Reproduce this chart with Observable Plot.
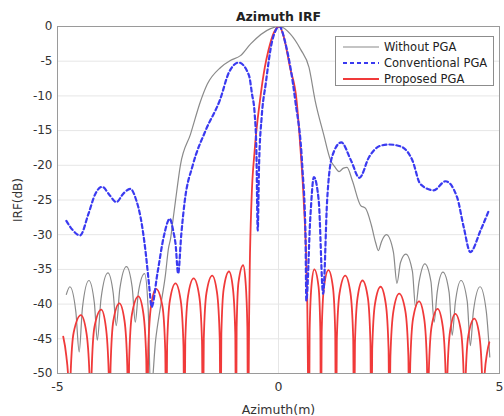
<!DOCTYPE html>
<html>
<head>
<meta charset="utf-8">
<script src="https://cdn.jsdelivr.net/npm/d3@7"></script>
<script src="https://cdn.jsdelivr.net/npm/@observablehq/plot@0.6"></script>
<style>
  html, body { margin: 0; padding: 0; background: #fff; }
  #wrap { position: relative; width: 504px; height: 416px; font-family: "DejaVu Sans", sans-serif; }
  #legend { position: absolute; left: 335px; top: 36px; width: 159px; height: 50px; box-sizing: border-box;
            border: 1px solid #8c8c8c; background: #fff; padding-top: 2px; }
  .row { display: flex; align-items: center; height: 16px; font-size: 11.5px; color: #222; }
  .row svg { margin-left: 7px; margin-right: 5px; }
</style>
</head>
<body>
<div id="wrap"></div>
<script>
// ---- data ----
const titleText = "Azimuth IRF";
const xLabel = "Azimuth(m)";
const yLabel = "IRF(dB)";
const xTicks = [-5, 0, 5];
const yTicks = [0, -5, -10, -15, -20, -25, -30, -35, -40, -45, -50];
const seriesNames = ["Without PGA", "Conventional PGA", "Proposed PGA"];

// Without PGA  [azimuth m, dB]
const withoutPGA = [
  [-4.80,-38.6],[-4.72,-37.5],[-4.585,-41.1],[-4.51,-46.9],[-4.435,-40.5],[-4.29,-36.6],[-4.165,-39.9],[-4.10,-45.2],
  [-4.015,-39.2],[-3.86,-35.5],[-3.74,-38.4],[-3.67,-43.1],[-3.59,-37.8],[-3.44,-34.6],[-3.31,-37.6],[-3.24,-42.6],
  [-3.17,-38.3],[-3.03,-35.6],[-2.95,-40.5],[-2.89,-53],[-2.78,-45.2],[-2.67,-40.4],[-2.56,-35.9],[-2.49,-32.0],
  [-2.44,-30.5],[-2.40,-28.5],[-2.33,-25.1],[-2.22,-20.0],[-1.99,-15.5],[-1.76,-10.7],[-1.61,-8.3],[-1.31,-5.9],
  [-1.09,-4.9],[-0.86,-4.2],[-0.63,-2.5],[-0.18,-0.3],[0.02,0],[0.27,-1.1],[0.50,-3.3],[0.69,-5.9],[0.83,-10.7],
  [1.02,-15.5],[1.18,-19.3],[1.27,-20.2],[1.37,-20.9],[1.47,-20.4],[1.55,-20.3],[1.67,-22.2],[1.86,-25.8],
  [1.97,-26.2],[2.10,-28.6],[2.20,-31.2],[2.26,-32.3],[2.33,-31.0],[2.44,-30.0],[2.60,-32.5],[2.68,-37.0],
  [2.76,-34.0],[2.88,-32.8],[3.03,-35.3],[3.10,-40.4],[3.18,-36.8],[3.31,-34.2],[3.45,-36.8],[3.52,-42.6],
  [3.59,-38.3],[3.72,-35.4],[3.86,-38.3],[3.93,-44.5],[4.00,-39.8],[4.13,-36.6],[4.27,-39.6],[4.34,-46.0],
  [4.41,-41.0],[4.56,-37.5],[4.70,-41.0],[4.78,-47.6]
];

// Conventional PGA
const conventionalPGA = [
  [-4.80,-28.0],[-4.66,-29.3],[-4.49,-30.1],[-4.30,-27.0],[-4.15,-24.2],[-3.99,-23.1],[-3.82,-24.3],[-3.67,-25.3],
  [-3.50,-24.0],[-3.35,-23.4],[-3.22,-25.0],[-3.12,-27.5],[-3.01,-32.3],[-2.93,-37.1],[-2.87,-40.4],[-2.74,-35.6],
  [-2.59,-30.1],[-2.46,-27.7],[-2.38,-29.5],[-2.33,-31.3],[-2.27,-35.6],[-2.20,-30.0],[-2.12,-25.1],[-1.94,-20.0],
  [-1.65,-15.0],[-1.32,-10.5],[-1.12,-6.6],[-0.90,-5.2],[-0.67,-7.0],[-0.60,-9.7],[-0.54,-12.5],[-0.50,-17.9],
  [-0.47,-29.4],[-0.44,-20.0],[-0.38,-13.0],[-0.29,-8.3],[-0.14,-2.0],[0.02,0],[0.16,-2.5],[0.38,-10.7],
  [0.54,-20.3],[0.61,-29.9],[0.63,-39.5],[0.72,-27.5],[0.80,-21.7],[0.91,-25.1],[1.01,-38.5],[1.10,-25.1],
  [1.21,-18.8],[1.42,-16.7],[1.64,-19.3],[1.83,-21.8],[2.05,-18.8],[2.30,-17.2],[2.50,-17.0],[2.77,-17.3],
  [3.03,-19.3],[3.21,-22.7],[3.51,-23.6],[3.78,-22.3],[4.04,-24.6],[4.19,-28.9],[4.34,-32.5],[4.57,-29.4],
  [4.76,-26.5]
];

// Proposed PGA
const proposedPGA = [
  [-4.87,-44.7],[-4.80,-47.5],[-4.755,-51],[-4.73,-62],
  [-4.706,-50.6],[-4.634,-44.1],[-4.47,-41.6],[-4.346,-44.1],[-4.274,-50.6],[-4.25,-62],
  [-4.228,-49.8],[-4.164,-43.3],[-4.01,-40.8],[-3.906,-43.3],[-3.842,-49.8],[-3.82,-62],
  [-3.799,-48.9],[-3.736,-42.4],[-3.60,-39.9],[-3.484,-42.4],[-3.421,-48.9],[-3.40,-62],
  [-3.378,-47.9],[-3.314,-41.4],[-3.17,-38.9],[-3.056,-41.4],[-2.992,-47.9],[-2.97,-62],
  [-2.948,-46.8],[-2.884,-40.3],[-2.77,-37.8],[-2.626,-40.3],[-2.562,-46.8],[-2.54,-62],
  [-2.52,-46.0],[-2.458,-39.5],[-2.33,-37.0],[-2.212,-39.5],[-2.15,-46.0],[-2.13,-62],
  [-2.109,-45.3],[-2.046,-38.8],[-1.92,-36.3],[-1.794,-38.8],[-1.731,-45.3],[-1.71,-62],
  [-1.69,-44.9],[-1.63,-38.4],[-1.50,-35.9],[-1.39,-38.4],[-1.33,-44.9],[-1.31,-62],
  [-1.293,-44.3],[-1.24,-37.8],[-1.12,-35.3],[-1.03,-37.8],[-0.978,-44.3],[-0.96,-62],
  [-0.947,-43.4],[-0.906,-36.9],[-0.80,-34.4],[-0.744,-36.9],[-0.704,-43.4],[-0.69,-62],
  [-0.665,-42],[-0.65,-34.7],[-0.61,-25],[-0.54,-17.9],[-0.42,-10.7],[-0.31,-5.9],[-0.23,-3.5],[-0.10,-0.8],
  [0.02,0],[0.12,-1.5],[0.26,-5.9],[0.41,-10.7],[0.50,-17.9],[0.57,-25],[0.65,-39.5],[0.69,-62],
  [0.704,-44.0],[0.744,-37.5],[0.81,-35.0],[0.906,-37.5],[0.947,-44.0],[0.96,-62],
  [0.977,-44.1],[1.028,-37.6],[1.13,-35.1],[1.232,-37.6],[1.283,-44.1],[1.30,-62],
  [1.32,-44.9],[1.382,-38.4],[1.51,-35.9],[1.628,-38.4],[1.69,-44.9],[1.71,-62],
  [1.73,-45.6],[1.788,-39.1],[1.90,-36.6],[2.022,-39.1],[2.08,-45.6],[2.10,-62],
  [2.12,-46.5],[2.182,-40.0],[2.31,-37.5],[2.428,-40.0],[2.49,-46.5],[2.51,-62],
  [2.532,-47.5],[2.60,-41.0],[2.73,-38.5],[2.87,-41.0],[2.938,-47.5],[2.96,-62],
  [2.981,-48.6],[3.044,-42.1],[3.18,-39.6],[3.296,-42.1],[3.359,-48.6],[3.38,-62],
  [3.401,-49.7],[3.464,-43.2],[3.60,-40.7],[3.716,-43.2],[3.779,-49.7],[3.80,-62],
  [3.82,-50.4],[3.882,-43.9],[4.00,-41.4],[4.128,-43.9],[4.19,-50.4],[4.21,-62],
  [4.231,-51.1],[4.294,-44.6],[4.43,-42.1],[4.546,-44.6],[4.609,-51.1],[4.63,-62],
  [4.655,-51],[4.72,-47],[4.77,-45.5]
];

const colors = ["#8a8a8a", "#3a3af0", "#f03a3a"];

const chart = Plot.plot({
  width: 504,
  height: 416,
  marginLeft: 57,
  marginRight: 5,
  marginTop: 26,
  marginBottom: 43,
  style: {fontFamily: "DejaVu Sans, sans-serif", fontSize: "12px", color: "#333", background: "#fff"},
  x: {domain: [-5, 5]},
  y: {domain: [-50, 0]},
  marks: [
    Plot.gridY(yTicks, {stroke: "#e6e6e6", strokeOpacity: 1}),
    Plot.gridX(xTicks, {stroke: "#e6e6e6", strokeOpacity: 1}),
    Plot.axisX(xTicks, {tickSize: 0, tickPadding: 9, tickFormat: d => String(d), label: xLabel,
      labelAnchor: "center", labelArrow: "none", labelOffset: 40, fontSize: 12.5}),
    Plot.axisY(yTicks, {tickSize: 0, tickPadding: 5, tickFormat: d => String(d), label: yLabel,
      labelAnchor: "center", labelArrow: "none", labelOffset: 44, fontSize: 12}),
    Plot.line(withoutPGA, {x: d => d[0], y: d => d[1], stroke: colors[0], strokeWidth: 1.2, curve: "monotone-x", clip: true}),
    Plot.line(proposedPGA, {x: d => d[0], y: d => d[1], stroke: colors[2], strokeWidth: 1.8, curve: "monotone-x", clip: true}),
    Plot.line(conventionalPGA, {x: d => d[0], y: d => d[1], stroke: colors[1], strokeWidth: 2.2, strokeDasharray: "4,3", curve: "monotone-x", clip: true}),
    Plot.frame({stroke: "#9a9a9a"}),
    Plot.text([titleText], {frameAnchor: "top", dy: -14, fontWeight: "bold", fontSize: 12.5, fill: "#222"})
  ]
});

const wrap = document.getElementById("wrap");
wrap.appendChild(chart);

// legend inside the axes, top right
const legend = document.createElement("div");
legend.id = "legend";
const dash = ["", "4,3", ""];
const widths = [1.2, 2.2, 1.8];
seriesNames.forEach((name, i) => {
  const row = document.createElement("div");
  row.className = "row";
  row.innerHTML = `<svg width="36" height="6"><line x1="0" y1="3" x2="36" y2="3" stroke="${colors[i]}" stroke-width="${widths[i]}" ${dash[i] ? `stroke-dasharray="${dash[i]}"` : ""}/></svg><span>${name}</span>`;
  legend.appendChild(row);
});
wrap.appendChild(legend);
</script>
</body>
</html>
